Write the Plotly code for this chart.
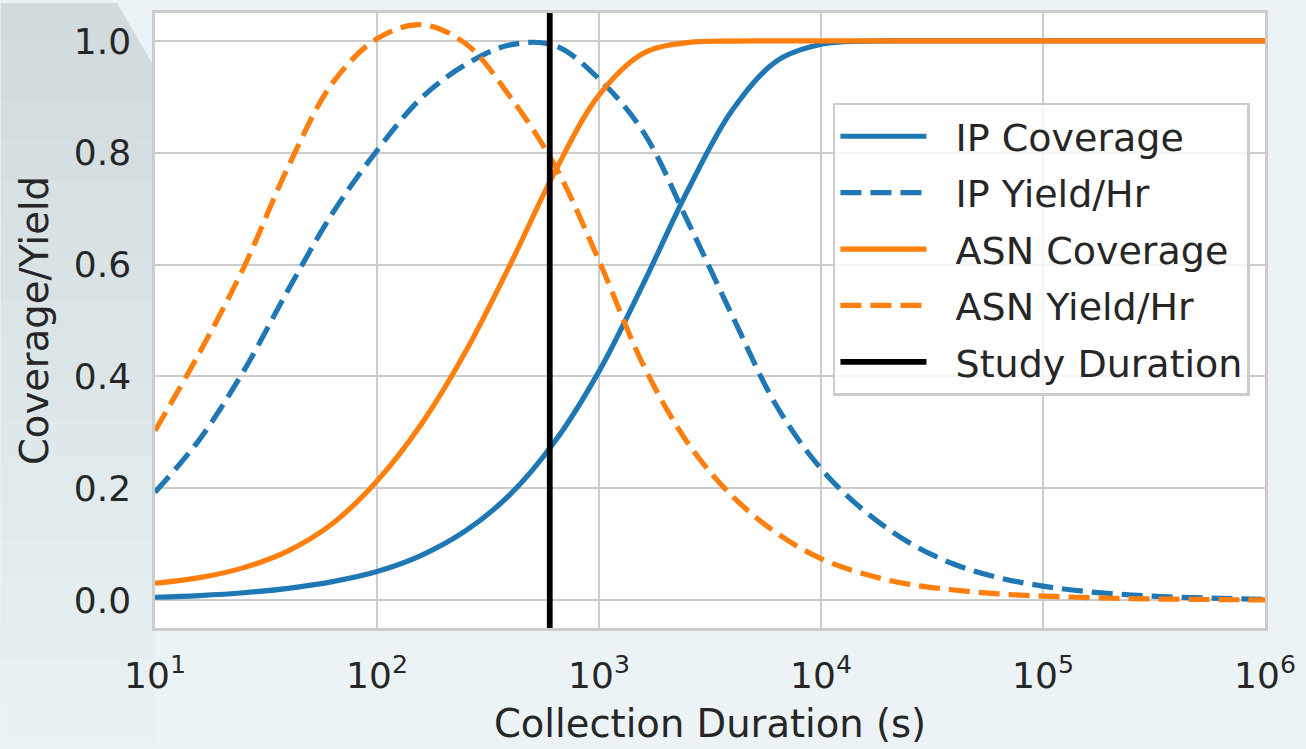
import plotly.graph_objects as go

# ---------------- data ----------------
durations_s = [10, 15.85, 25.12, 39.81, 63.1, 100, 158.5, 251.2, 398.1, 631,
               1000, 1585, 2512, 3981, 6310, 10000, 15850, 25120, 39810, 63100,
               100000, 158500, 251200, 398100, 631000, 1000000]

ip_coverage = [0.005, 0.008, 0.013, 0.021, 0.033, 0.051, 0.080, 0.124, 0.189, 0.283,
               0.409, 0.566, 0.733, 0.876, 0.964, 0.994, 0.9997, 1.0, 1.0, 1.0,
               1.0, 1.0, 1.0, 1.0, 1.0, 1.0]

ip_yield = [0.193, 0.287, 0.410, 0.555, 0.692, 0.804, 0.898, 0.958, 0.993, 0.992,
            0.932, 0.837, 0.677, 0.509, 0.347, 0.235, 0.158, 0.102, 0.064, 0.040,
            0.025, 0.015, 0.009, 0.005, 0.003, 0.001]

asn_coverage = [0.030, 0.040, 0.058, 0.088, 0.137, 0.213, 0.315, 0.445, 0.600, 0.765,
                0.903, 0.978, 0.997, 0.9998, 1.0, 1.0, 1.0, 1.0, 1.0, 1.0,
                1.0, 1.0, 1.0, 1.0, 1.0, 1.0]

asn_yield = [0.303, 0.442, 0.595, 0.775, 0.925, 1.004, 1.029, 0.995, 0.900, 0.778,
             0.607, 0.420, 0.281, 0.186, 0.120, 0.074, 0.046, 0.028, 0.018, 0.011,
             0.007, 0.0045, 0.0025, 0.0015, 0.0008, 0.0003]

study_duration_s = 600

x_tick_vals = [10, 100, 1000, 10000, 100000, 1000000]
x_tick_text = ["10<sup>1</sup>", "10<sup>2</sup>", "10<sup>3</sup>",
               "10<sup>4</sup>", "10<sup>5</sup>", "10<sup>6</sup>"]
y_range = [-0.05, 1.05]

# ---------------- style ----------------
W, H = 1306, 749
ML, MR, MT, MB = 155, 36, 10, 121
PW, PH = W - ML - MR, H - MT - MB
BLUE, ORANGE = "#1f77b4", "#ff7f0e"
TXT = "#262626"
GRID = "#cccccc"
FONT = "DejaVu Sans"
LW = 5.2
DASH = "21px,9px"
PAD = "\u00a0\u00a0"

fig = go.Figure()

series = [
    ("IP Coverage", ip_coverage, BLUE, "solid"),
    ("IP Yield/Hr", ip_yield, BLUE, DASH),
    ("ASN Coverage", asn_coverage, ORANGE, "solid"),
    ("ASN Yield/Hr", asn_yield, ORANGE, DASH),
]
for name, vals, col, dash in series:
    fig.add_trace(go.Scatter(
        x=durations_s, y=vals, mode="lines", name=PAD + name, legendgroup=name,
        line=dict(color=col, width=LW, dash=dash, shape="spline", smoothing=1.0),
    ))

fig.add_trace(go.Scatter(
    x=[study_duration_s, study_duration_s], y=y_range, mode="lines",
    name=PAD + "Study Duration", legendgroup="Study Duration",
    line=dict(color="black", width=5.8),
))

# ---------------- background (page-like gradient) ----------------
def px_to_paper(px, py):
    return (px - ML) / PW, (H - MB - py) / PH

def right_edge(py):
    if py <= 62:
        return 117 + (153 - 117) * py / 62.0
    return ML

top_rgb = (208, 218, 221)
bot_rgb = (233, 242, 245)
bounds = sorted(set([0, 31, 62] + list(range(100, H + 1, 40)) + [H]))
shapes = []
for i in range(len(bounds) - 1):
    y0, y1 = bounds[i], bounds[i + 1]
    t = ((y0 + y1) / 2) / H
    c = tuple(int(round(top_rgb[k] + (bot_rgb[k] - top_rgb[k]) * t)) for k in range(3))
    pts = [(0, y0), (right_edge(y0), y0), (right_edge(y1), y1), (0, y1)]
    pp = [px_to_paper(*p) for p in pts]
    path = "M " + " L ".join(f"{a:.5f},{b:.5f}" for a, b in pp) + " Z"
    shapes.append(dict(type="path", path=path, xref="paper", yref="paper",
                       fillcolor=f"rgb({c[0]},{c[1]},{c[2]})", line=dict(width=0),
                       layer="below"))

fig.update_layout(
    width=W, height=H, autosize=False,
    margin=dict(l=ML, r=MR, t=MT, b=MB, pad=0),
    paper_bgcolor="#ebf3f6",
    plot_bgcolor="white",
    font=dict(family=FONT, color=TXT, size=36),
    shapes=shapes,
    showlegend=True,
    legend=dict(
        x=(836 - ML) / PW, y=(H - MB - 100) / PH, xanchor="left", yanchor="top",
        bgcolor="rgba(255,255,255,0.8)", bordercolor=GRID, borderwidth=2.5,
        font=dict(family=FONT, size=38, color=TXT),
        tracegroupgap=4, itemwidth=86,
    ),
    xaxis=dict(
        type="log", range=[1, 6],
        tickvals=x_tick_vals, ticktext=x_tick_text,
        showgrid=True, gridcolor=GRID, gridwidth=1.6,
        showline=True, mirror=True, linecolor=GRID, linewidth=2.5,
        ticks="", ticklabelstandoff=14,
        tickfont=dict(size=36, color=TXT, family=FONT),
        title=dict(text="Collection Duration (s)", standoff=16,
                   font=dict(size=38.5, color=TXT, family=FONT)),
        zeroline=False,
    ),
    yaxis=dict(
        range=y_range, dtick=0.2, tick0=0, tickformat=".1f",
        showgrid=True, gridcolor=GRID, gridwidth=1.6,
        showline=True, mirror=True, linecolor=GRID, linewidth=2.5,
        ticks="", ticklabelstandoff=14,
        tickfont=dict(size=36, color=TXT, family=FONT),
        title=dict(text="Coverage/Yield", standoff=14,
                   font=dict(size=38.5, color=TXT, family=FONT)),
        zeroline=False,
    ),
)

fig.write_html(
    "out.html",
    config={"displayModeBar": False},
    post_script="document.body.style.margin='0px';"
                "document.body.style.backgroundColor='#ebf3f6';",
)
